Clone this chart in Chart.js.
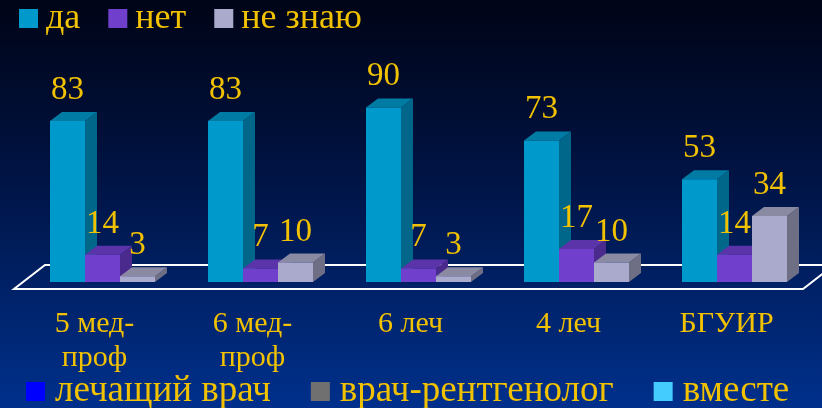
<!DOCTYPE html>
<html>
<head>
<meta charset="utf-8">
<script src="https://cdn.jsdelivr.net/npm/chart.js@4.4.0/dist/chart.umd.min.js"></script>
<style>
  html, body { margin: 0; padding: 0; background: #000a24; }
  #chart { display: block; }
</style>
</head>
<body>
<canvas id="chart" width="822" height="408"></canvas>
<script>
const categories = [['5 мед-', 'проф'], ['6 мед-', 'проф'], '6 леч', '4 леч', 'БГУИР'];
const seriesNames = ['да', 'нет', 'не знаю'];
const yesValues = [83, 83, 90, 73, 53];
const noValues = [14, 7, 7, 17, 14];
const dontKnowValues = [3, 10, 3, 10, 34];
const footerLegendLabels = ['лечащий врач', 'врач-рентгенолог', 'вместе'];

const GOLD = '#f2c200';
const SERIF = "'Liberation Serif', 'Times New Roman', serif";
const DEPTH_X = 12, DEPTH_Y = 9;

// front / top / side shade for each series
const SERIES_COLORS = [
  { front: '#0099cc', top: '#007ba3', side: '#00678a' },
  { front: '#7040cc', top: '#5a34a8', side: '#4a2a8c' },
  { front: '#aaaacc', top: '#8a8aa2', side: '#6e6e84' },
];
const FOOTER_COLORS = ['#0000ff', '#707070', '#44ccff'];

const bgPlugin = {
  id: 'bg',
  beforeDraw(chart) {
    const { ctx, width, height } = chart;
    const g = ctx.createLinearGradient(0, 0, 0, height);
    g.addColorStop(0, '#000416');
    g.addColorStop(0.45, '#001446');
    g.addColorStop(1, '#00308c');
    ctx.save();
    ctx.fillStyle = g;
    ctx.fillRect(0, 0, width, height);
    ctx.restore();
  }
};

// floor plate + top/side faces of the bars, drawn under the front faces
const depthPlugin = {
  id: 'depth',
  beforeDatasetsDraw(chart) {
    const { ctx, chartArea: a } = chart;
    ctx.save();
    ctx.beginPath();
    ctx.moveTo(a.left - 9.5, a.bottom + 7);
    ctx.lineTo(a.right - 10.5, a.bottom + 7);
    ctx.lineTo(a.right + 20.5, a.bottom - 17);
    ctx.lineTo(a.left + 21.5, a.bottom - 17);
    ctx.closePath();
    ctx.strokeStyle = '#ffffff';
    ctx.lineWidth = 2;
    ctx.stroke();

    const n = chart.data.labels.length;
    for (let i = 0; i < n; i++) {
      chart.data.datasets.forEach((ds, d) => {
        const bar = chart.getDatasetMeta(d).data[i];
        const { x, y, base, width } = bar.getProps(['x', 'y', 'base', 'width'], true);
        const l = x - width / 2, r = x + width / 2;
        const col = SERIES_COLORS[d];
        ctx.fillStyle = col.side;
        ctx.beginPath();
        ctx.moveTo(r, y);
        ctx.lineTo(r + DEPTH_X, y - DEPTH_Y);
        ctx.lineTo(r + DEPTH_X, base - DEPTH_Y);
        ctx.lineTo(r, base);
        ctx.closePath();
        ctx.fill();
        ctx.fillStyle = col.top;
        ctx.beginPath();
        ctx.moveTo(l, y);
        ctx.lineTo(l + DEPTH_X, y - DEPTH_Y);
        ctx.lineTo(r + DEPTH_X, y - DEPTH_Y);
        ctx.lineTo(r, y);
        ctx.closePath();
        ctx.fill();
      });
    }
    ctx.restore();
  }
};

const valueLabelPlugin = {
  id: 'valueLabels',
  afterDatasetsDraw(chart) {
    const { ctx } = chart;
    ctx.save();
    ctx.font = `33px ${SERIF}`;
    ctx.fillStyle = GOLD;
    ctx.textAlign = 'center';
    ctx.textBaseline = 'alphabetic';
    chart.data.datasets.forEach((ds, d) => {
      chart.getDatasetMeta(d).data.forEach((bar, i) => {
        ctx.fillText(String(ds.data[i]), bar.x, bar.y - 22);
      });
    });
    ctx.restore();
  }
};

// series legend at the top and the extra legend row at the bottom
const legendPlugin = {
  id: 'legends',
  afterDraw(chart) {
    const { ctx } = chart;
    ctx.save();
    ctx.textBaseline = 'alphabetic';
    ctx.textAlign = 'left';

    ctx.font = `36px ${SERIF}`;
    let x = 19;
    chart.data.datasets.forEach((ds, d) => {
      ctx.fillStyle = SERIES_COLORS[d].front;
      ctx.fillRect(x, 9, 19, 19);
      ctx.fillStyle = GOLD;
      ctx.fillText(ds.label, x + 27, 28);
      x += 27 + ctx.measureText(ds.label).width + 28;
    });

    ctx.font = `37px ${SERIF}`;
    x = 26;
    footerLegendLabels.forEach((label, k) => {
      ctx.fillStyle = FOOTER_COLORS[k];
      ctx.fillRect(x, 382, 19, 19);
      ctx.fillStyle = GOLD;
      ctx.fillText(label, x + 29, 401);
      x += 29 + ctx.measureText(label).width + 40;
    });
    ctx.restore();
  }
};

const seriesValues = [yesValues, noValues, dontKnowValues];

const config = {
  type: 'bar',
  plugins: [bgPlugin, depthPlugin, valueLabelPlugin, legendPlugin],
  data: {
    labels: categories,
    datasets: seriesNames.map((name, d) => ({
      label: name,
      data: seriesValues[d],
      backgroundColor: SERIES_COLORS[d].front,
      borderWidth: 0,
      categoryPercentage: 105 / 158,
      barPercentage: 1,
    })),
  },
  options: {
    responsive: false,
    animation: false,
    devicePixelRatio: 1,
    layout: { padding: { left: 23.5, right: 8.5, top: 88, bottom: 0 } },
    scales: {
      x: {
        grid: { display: false, drawTicks: false },
        border: { display: false },
        ticks: {
          color: GOLD,
          font: { family: SERIF, size: 30, lineHeight: 1.13 },
          padding: 25,
          labelOffset: -8,
          maxRotation: 0,
          autoSkip: false,
        },
        afterFit(scale) { scale.height = 126; },
      },
      y: { display: false, min: 0, max: 100 },
    },
    plugins: {
      legend: { display: false },
      tooltip: { enabled: false },
    },
  },
};

new Chart(document.getElementById('chart'), config);
</script>
</body>
</html>
